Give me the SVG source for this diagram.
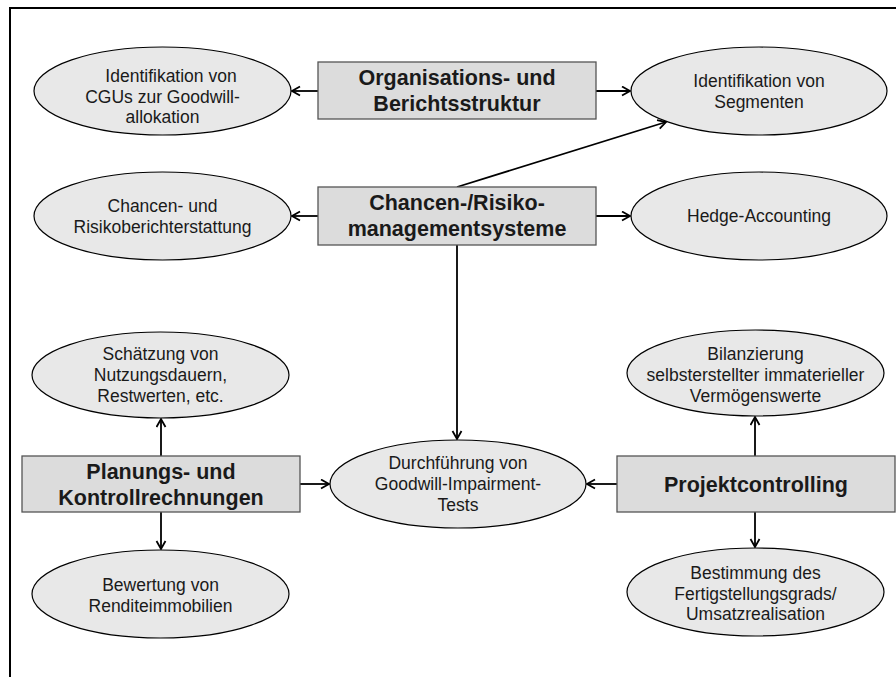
<svg xmlns="http://www.w3.org/2000/svg" width="896" height="677" viewBox="0 0 896 677">
<style>
.el{fill:#e8e8e8;stroke:#000;stroke-width:1.2}
.bx{fill:#dcdcdc;stroke:#555;stroke-width:1.3}
.t{font-family:"Liberation Sans",Arial,sans-serif;font-size:17.5px;fill:#1a1a1a;text-anchor:middle}
.b{font-family:"Liberation Sans",Arial,sans-serif;font-size:21.5px;font-weight:bold;fill:#1a1a1a;text-anchor:middle}
.c{stroke:#000;stroke-width:1.8;fill:none;marker-end:url(#ah)}
</style>
<defs>
<marker id="ah" markerUnits="userSpaceOnUse" markerWidth="12" markerHeight="12" refX="9" refY="5.5" orient="auto">
<path d="M1,1 L9,5.5 L1,10" fill="none" stroke="#000" stroke-width="1.8"/>
</marker>
</defs>
<rect width="896" height="677" fill="#fff"/>
<path d="M10,677 L10,8 L896,8" fill="none" stroke="#000" stroke-width="2"/>

<g id="connectors">
<line class="c" x1="318" y1="91" x2="292" y2="91"/>
<line class="c" x1="596" y1="91" x2="630" y2="91"/>
<line class="c" x1="318" y1="216" x2="292" y2="216"/>
<line class="c" x1="596" y1="216" x2="630" y2="216"/>
<line class="c" x1="457" y1="187" x2="666" y2="122"/>
<line class="c" x1="457" y1="245" x2="457" y2="439"/>
<line class="c" x1="161" y1="456" x2="161" y2="419"/>
<line class="c" x1="161" y1="512" x2="161" y2="549"/>
<line class="c" x1="300" y1="484" x2="329" y2="484"/>
<line class="c" x1="617" y1="484" x2="587" y2="484"/>
<line class="c" x1="755" y1="456" x2="755" y2="417"/>
<line class="c" x1="755" y1="512" x2="755" y2="547"/>
</g>

<g id="box-organisation">
<rect class="bx" x="318" y="62" width="278" height="57"/>
<text class="b" x="457" y="85">Organisations- und</text>
<text class="b" x="457" y="111">Berichtsstruktur</text>
</g>
<g id="box-chancen">
<rect class="bx" x="318" y="187" width="278" height="58"/>
<text class="b" x="457" y="210">Chancen-/Risiko-</text>
<text class="b" x="457" y="236">managementsysteme</text>
</g>
<g id="box-planung">
<rect class="bx" x="22" y="456" width="278" height="56"/>
<text class="b" x="161" y="479">Planungs- und</text>
<text class="b" x="161" y="505">Kontrollrechnungen</text>
</g>
<g id="box-projekt">
<rect class="bx" x="617" y="456" width="278" height="56"/>
<text class="b" x="756" y="492">Projektcontrolling</text>
</g>

<g id="el-cgu">
<ellipse class="el" cx="162.5" cy="91" rx="128.5" ry="44"/>
<text class="t" x="171" y="82">Identifikation von</text>
<text class="t" x="162.5" y="102.5">CGUs zur Goodwill-</text>
<text class="t" x="162.5" y="123">allokation</text>
</g>
<g id="el-segmente">
<ellipse class="el" cx="759" cy="91" rx="128" ry="44"/>
<text class="t" x="759" y="87">Identifikation von</text>
<text class="t" x="759" y="107.5">Segmenten</text>
</g>
<g id="el-risikobericht">
<ellipse class="el" cx="162.5" cy="216" rx="128.5" ry="44"/>
<text class="t" x="162.5" y="212">Chancen- und</text>
<text class="t" x="162.5" y="232.5">Risikoberichterstattung</text>
</g>
<g id="el-hedge">
<ellipse class="el" cx="759" cy="216" rx="128" ry="44"/>
<text class="t" x="759" y="222">Hedge-Accounting</text>
</g>
<g id="el-schaetzung">
<ellipse class="el" cx="160.5" cy="375" rx="128.5" ry="43"/>
<text class="t" x="160.5" y="360">Schätzung von</text>
<text class="t" x="160.5" y="381">Nutzungsdauern,</text>
<text class="t" x="160.5" y="401.5">Restwerten, etc.</text>
</g>
<g id="el-bewertung">
<ellipse class="el" cx="160.5" cy="594" rx="128.5" ry="44"/>
<text class="t" x="160.5" y="591">Bewertung von</text>
<text class="t" x="160.5" y="611.5">Renditeimmobilien</text>
</g>
<g id="el-goodwill">
<ellipse class="el" cx="458" cy="484" rx="128" ry="44"/>
<text class="t" x="458" y="469">Durchführung von</text>
<text class="t" x="458" y="490">Goodwill-Impairment-</text>
<text class="t" x="458" y="510.5">Tests</text>
</g>
<g id="el-bilanzierung">
<ellipse class="el" cx="755.5" cy="373" rx="128.5" ry="43"/>
<text class="t" x="755.5" y="360">Bilanzierung</text>
<text class="t" x="755.5" y="381">selbsterstellter immaterieller</text>
<text class="t" x="755.5" y="401.5">Vermögenswerte</text>
</g>
<g id="el-bestimmung">
<ellipse class="el" cx="755.5" cy="592" rx="128.5" ry="44"/>
<text class="t" x="755.5" y="579">Bestimmung des</text>
<text class="t" x="755.5" y="599.5">Fertigstellungsgrads/</text>
<text class="t" x="755.5" y="620">Umsatzrealisation</text>
</g>
</svg>
